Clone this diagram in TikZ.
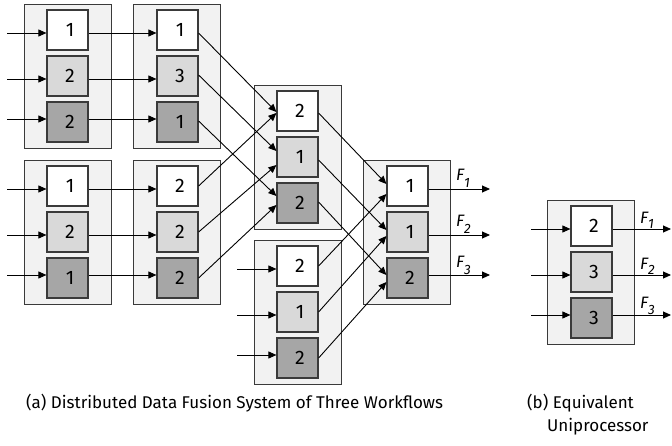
\documentclass[tikz,border=0pt]{standalone}
\usepackage{fontspec}
\setmainfont{Fira Sans}
\usetikzlibrary{arrows.meta,calc}
\definecolor{groupfill}{HTML}{F2F2F2}
\definecolor{lightcell}{HTML}{D9D9D9}
\definecolor{darkcell}{HTML}{A6A6A6}
\definecolor{edgegray}{HTML}{3A3A3A}

\newcommand{\flab}[2]{\itshape F\raisebox{#2}{\fontsize{13.5}{13.5}\selectfont #1}}

\begin{document}
\begin{tikzpicture}[x=1pt,y=-1pt,
  group/.style={draw=edgegray, line width=1pt, fill=groupfill,
    minimum width=87pt, minimum height=144pt, inner sep=0pt},
  cell/.style={draw=edgegray, line width=1.2pt, minimum width=41pt,
    minimum height=40pt, inner sep=0pt, font=\fontsize{19.5}{19.5}\selectfont},
  cwhite/.style={cell, fill=white},
  clight/.style={cell, fill=lightcell},
  cdark/.style={cell, fill=darkcell},
  link/.style={draw=black, line width=0.9pt, -{Triangle[length=8pt,width=7pt]}},
  flabel/.style={anchor=base west, inner sep=0pt, font=\fontsize{16.5}{16.5}\selectfont},
  caption/.style={anchor=base west, inner sep=0pt, font=\fontsize{17}{20}\selectfont},
]
\useasboundingbox (0,0) rectangle (672,445);

% ---- processor groups ----
\node[group] (gA) at (67.5,76) {};
\node[group] (gB) at (67.5,232) {};
\node[group] (gC) at (177,76) {};
\node[group] (gD) at (177,232) {};
\node[group] (gE) at (298,157) {};
\node[group] (gF) at (298,312.5) {};
\node[group] (gG) at (406.5,232) {};
\node[group] (gU) at (591,272) {};

% ---- tasks inside the groups ----
\node[cwhite] (a1) at (67.5,30)  {\kern5pt 1};
\node[clight] (a2) at (67.5,76)  {\kern5pt 2};
\node[cdark]  (a3) at (67.5,122) {\kern5pt 2};

\node[cwhite] (b1) at (67.5,186) {\kern5pt 1};
\node[clight] (b2) at (67.5,232) {\kern5pt 2};
\node[cdark]  (b3) at (67.5,278) {\kern5pt 1};

\node[cwhite] (c1) at (177.5,30)  {\kern5pt 1};
\node[clight] (c2) at (177.5,76)  {\kern5pt 3};
\node[cdark]  (c3) at (177.5,122) {\kern5pt 1};

\node[cwhite] (d1) at (177.5,186) {\kern5pt 2};
\node[clight] (d2) at (177.5,232) {\kern5pt 2};
\node[cdark]  (d3) at (177.5,278) {\kern5pt 2};

\node[cwhite] (e1) at (297.5,111) {\kern5pt 2};
\node[clight] (e2) at (297.5,157) {\kern5pt 1};
\node[cdark]  (e3) at (297.5,203) {\kern5pt 2};

\node[cwhite] (f1) at (297.5,266) {\kern5pt 2};
\node[clight] (f2) at (297.5,312) {\kern5pt 1};
\node[cdark]  (f3) at (297.5,358) {\kern5pt 2};

\node[cwhite] (g1) at (407.5,186) {\kern5pt 1};
\node[clight] (g2) at (407.5,232) {\kern5pt 1};
\node[cdark]  (g3) at (407.5,278) {\kern5pt 2};

\node[cwhite] (u1) at (591.5,226) {\kern5pt 2};
\node[clight] (u2) at (591.5,272) {\kern5pt 3};
\node[cdark]  (u3) at (591.5,318) {\kern5pt 3};

% ---- free ends of inputs and outputs ----
\coordinate (ia1) at (7,33);   \coordinate (ia2) at (7,79);   \coordinate (ia3) at (7,119);
\coordinate (ib1) at (7,189);  \coordinate (ib2) at (7,235);  \coordinate (ib3) at (7,275);
\coordinate (if1) at (237,269); \coordinate (if2) at (237,315); \coordinate (if3) at (237,355);
\coordinate (iu1) at (531,229); \coordinate (iu2) at (531,275); \coordinate (iu3) at (531,315);
\coordinate (og1) at (490,189); \coordinate (og2) at (490,235); \coordinate (og3) at (490,275);
\coordinate (ou1) at (671,229); \coordinate (ou2) at (671,275); \coordinate (ou3) at (671,315);

% ---- inputs ----
\foreach \r in {1,2,3} {
  \draw[link] (ia\r) -- (ia\r -| a\r.west);
  \draw[link] (ib\r) -- (ib\r -| b\r.west);
  \draw[link] (if\r) -- (if\r -| f\r.west);
  \draw[link] (iu\r) -- (iu\r -| u\r.west);
  % first stage to second stage
  \draw[link] (a\r.east |- ia\r) -- (c\r.west |- ia\r);
  \draw[link] (b\r.east |- ib\r) -- (d\r.west |- ib\r);
}

% ---- second stage to third stage ----
\draw[link] ($(c1.east)+(0,3)$)  -- ($(e1.west)+(0,1)$);
\draw[link] ($(c2.east)+(0,-1)$) -- ($(e2.west)+(0,-6)$);
\draw[link] ($(c3.east)+(0,-1)$) -- ($(e3.west)+(0,-7)$);
\draw[link] ($(d1.east)+(0,0)$)  -- ($(e1.west)+(0,2)$);
\draw[link] ($(d2.east)+(0,0)$)  -- ($(e2.west)+(0,8)$);
\draw[link] ($(d3.east)+(0,0)$)  -- ($(e3.west)+(0,2)$);

% ---- third stage to fusion stage ----
\draw[link] ($(e1.east)+(0,2)$)  -- ($(g1.west)+(0,-2)$);
\draw[link] ($(e2.east)+(0,3)$)  -- ($(g2.west)+(0,-2)$);
\draw[link] ($(e3.east)+(0,-1)$) -- ($(g3.west)+(0,-3)$);
\draw[link] ($(f1.east)+(0,0)$)  -- ($(g1.west)+(0,8)$);
\draw[link] ($(f2.east)+(0,0)$)  -- ($(g2.west)+(0,4)$);
\draw[link] ($(f3.east)+(0,0)$)  -- ($(g3.west)+(0,4)$);

% ---- outputs ----
\foreach \r in {1,2,3} {
  \draw[link] (g\r.east |- og\r) -- (og\r);
  \draw[link] (u\r.east |- ou\r) -- (ou\r);
}

% ---- output labels ----
\node[flabel] (fg1) at (456,180) {\flab{1}{-7pt}};
\node[flabel] (fg2) at (456,226) {\flab{2}{-7pt}};
\node[flabel] (fg3) at (456,267) {\flab{3}{-7pt}};
\node[flabel] (fu1) at (640,223) {\flab{1}{-5pt}};
\node[flabel] (fu2) at (640,269) {\flab{2}{-5pt}};
\node[flabel] (fu3) at (640,308) {\flab{3}{-6pt}};

% ---- captions ----
\node[caption] (capa) at (26,408) {(a) Distributed Data Fusion System of Three Workflows};
\node[caption] (capb1) at (527,408) {(b) Equivalent};
\node[caption] (capb2) at (547,431) {Uniprocessor};
\end{tikzpicture}
\end{document}
